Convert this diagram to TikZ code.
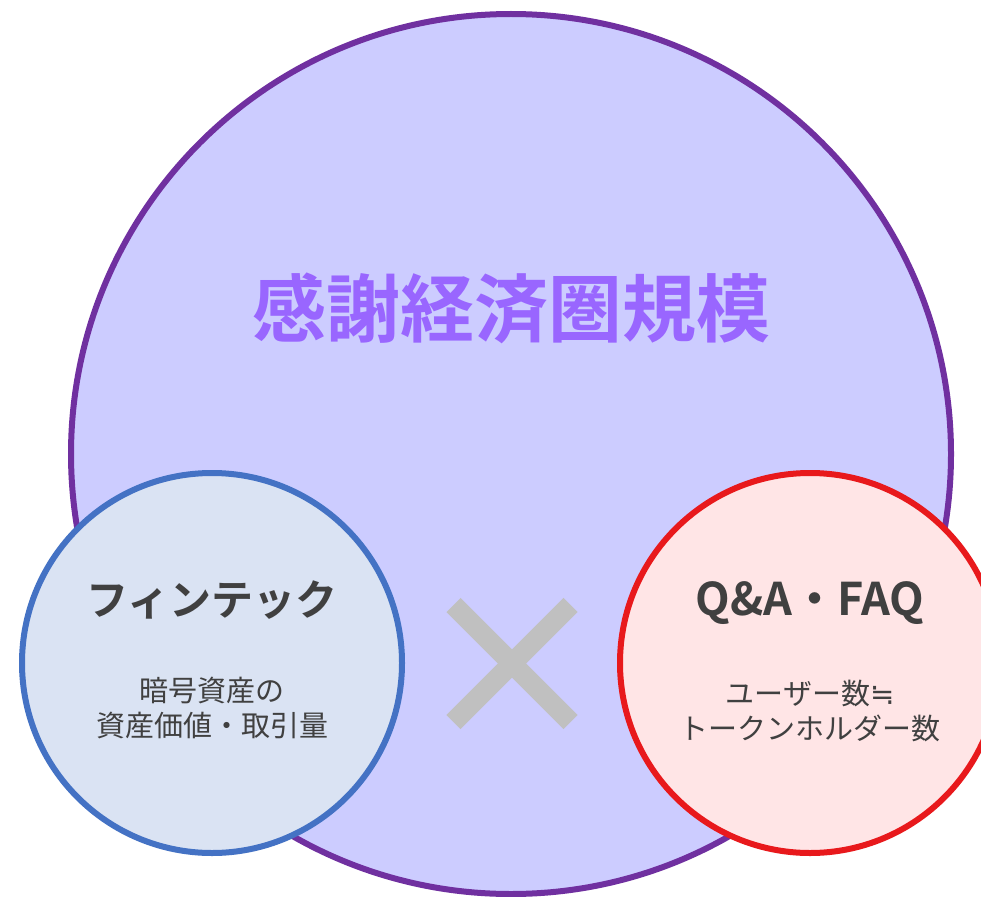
\documentclass[tikz,border=0pt]{standalone}
\usepackage{fontspec}
\newfontfamily\jp{Noto Sans CJK JP}
\newfontfamily\jpb{Noto Sans CJK JP Bold}
\newfontfamily\sym{DejaVu Sans}
\definecolor{bigfill}{HTML}{CCCCFF}
\definecolor{bigline}{HTML}{7030A0}
\definecolor{lfill}{HTML}{DAE3F3}
\definecolor{lline}{HTML}{4472C4}
\definecolor{rfill}{HTML}{FFE5E6}
\definecolor{rline}{HTML}{E8191C}
\definecolor{txt}{HTML}{404040}
\definecolor{ttl}{HTML}{9966FF}
\definecolor{xgray}{HTML}{C0C0C0}
\tikzset{
  circ/.style={circle, line width=6pt, inner sep=0pt},
  headtxt/.style={text=txt, font=\jpb\fontsize{42}{48}\selectfont, inner sep=0pt},
  subtxt/.style={text=txt, font=\jp\fontsize{29}{35}\selectfont, align=center, inner sep=0pt},
}
\begin{document}
\begin{tikzpicture}[x=1pt,y=-1pt]
\clip (0,0) rectangle (981,896);
\fill[white] (0,0) rectangle (981,896);
\node[circ, draw=bigline, fill=bigfill, minimum size=880pt] (big) at (511,454) {};
\node[text=ttl, font=\jpb\fontsize{74}{80}\selectfont, inner sep=0pt] (title) at (511,308) {感謝経済圏規模};
\node[circ, draw=lline, fill=lfill, minimum size=380pt] (left) at (212,663) {};
\node[circ, draw=rline, fill=rfill, minimum size=380pt] (right) at (810,663) {};
\node[headtxt] (lh) at (212,600) {フィンテック};
\node[subtxt] (ls) at (212,708) {暗号資産の\\資産価値・取引量};
\node[headtxt, font=\jpb\fontsize{45}{48}\selectfont] (rh) at (810,603) {Q\&A・FAQ};
\node[subtxt] (rs) at (810,711) {ユーザー数{\sym ≒}\\トークンホルダー数};
\coordinate (xc) at (512,663.5);
\draw[xgray, line width=20pt] (453.5,605) -- (570.5,722);
\draw[xgray, line width=20pt] (570.5,605) -- (453.5,722);
\end{tikzpicture}
\end{document}
